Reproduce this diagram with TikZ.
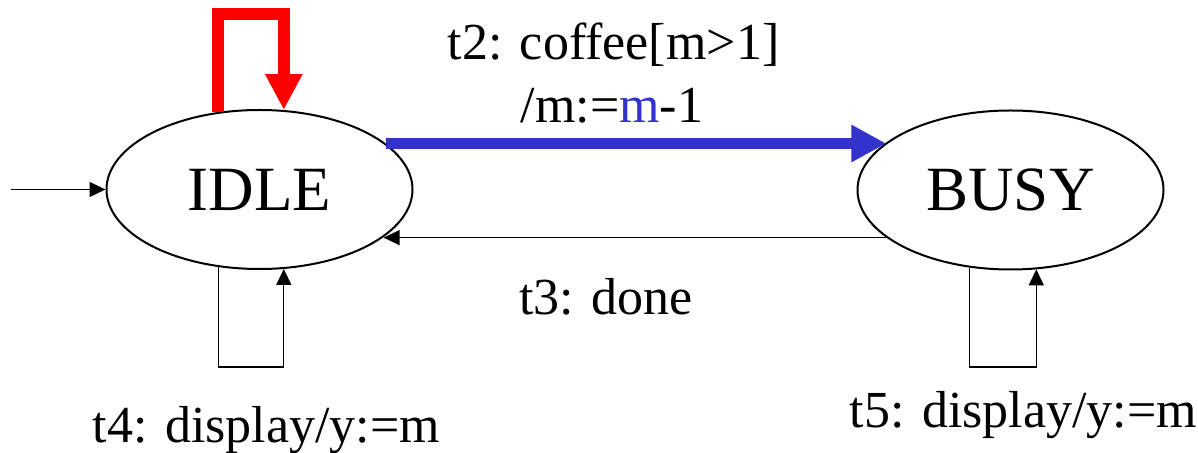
\documentclass[tikz,border=0pt]{standalone}
\usepackage{fontspec}
\setmainfont{Liberation Serif}
\usetikzlibrary{arrows.meta,shapes.geometric}
\definecolor{tblue}{RGB}{51,51,204}
\definecolor{tred}{RGB}{255,0,0}
\begin{document}
\begin{tikzpicture}[x=0.5pt,y=-0.5pt,
  state/.style={ellipse,draw,line width=1pt,inner sep=0pt,minimum width=153pt,minimum height=79.5pt,font=\fontsize{31.5}{36}\selectfont},
  lbl/.style={inner sep=0pt,anchor=base,font=\fontsize{26}{30}\selectfont},
  thin/.style={line width=0.7pt,-{Triangle[width=7.5pt,length=8pt]}},
  redloop/.style={tred,line width=6pt,-{Triangle[width=17.5pt,length=18pt]}},
  bluearrow/.style={tblue,line width=5.5pt,-{Triangle[width=17.5pt,length=17.5pt]}}]
\useasboundingbox (0,0) rectangle (1198,453);
\node[state] (idle) at (259.5,189.5) {\raisebox{-1.5pt}{IDLE}};
\node[state] (busy) at (1010.5,190) {\raisebox{-1.5pt}{BUSY}};
\coordinate (init) at (11,189.5);
\coordinate (rtop) at (251,14);
\coordinate (b4) at (251,367);
\coordinate (b5) at (1003,367);
% initial
\draw[thin] (init) -- (idle);
% red self loop
\draw[redloop] (idle.118) |- (rtop) -| (idle.73.3);
% blue t2
\draw[bluearrow] (idle.20.9) -- (idle.20.9 -| busy.159);
% t3
\draw[thin] (busy.201.35) -- (busy.201.35 -| idle.-21.9);
% t4, t5 loops
\draw[thin] (idle.-118) |- (b4) -| (idle.-73.3);
\draw[thin] (busy.242.9) |- (b5) -| (busy.-72.1);
% labels
\node[lbl] (l2a) at (613.5,60) {t2: coffee[m>1]};
\node[lbl] (l2b) at (612,123) {/m:=\textcolor{tblue}{m}-1};
\node[lbl] (l3) at (606,315) {t3: done};
\node[lbl] (l4) at (266.5,443) {t4: display/y:=m};
\node[lbl] (l5) at (1023.5,428) {t5: display/y:=m};
\end{tikzpicture}
\end{document}
